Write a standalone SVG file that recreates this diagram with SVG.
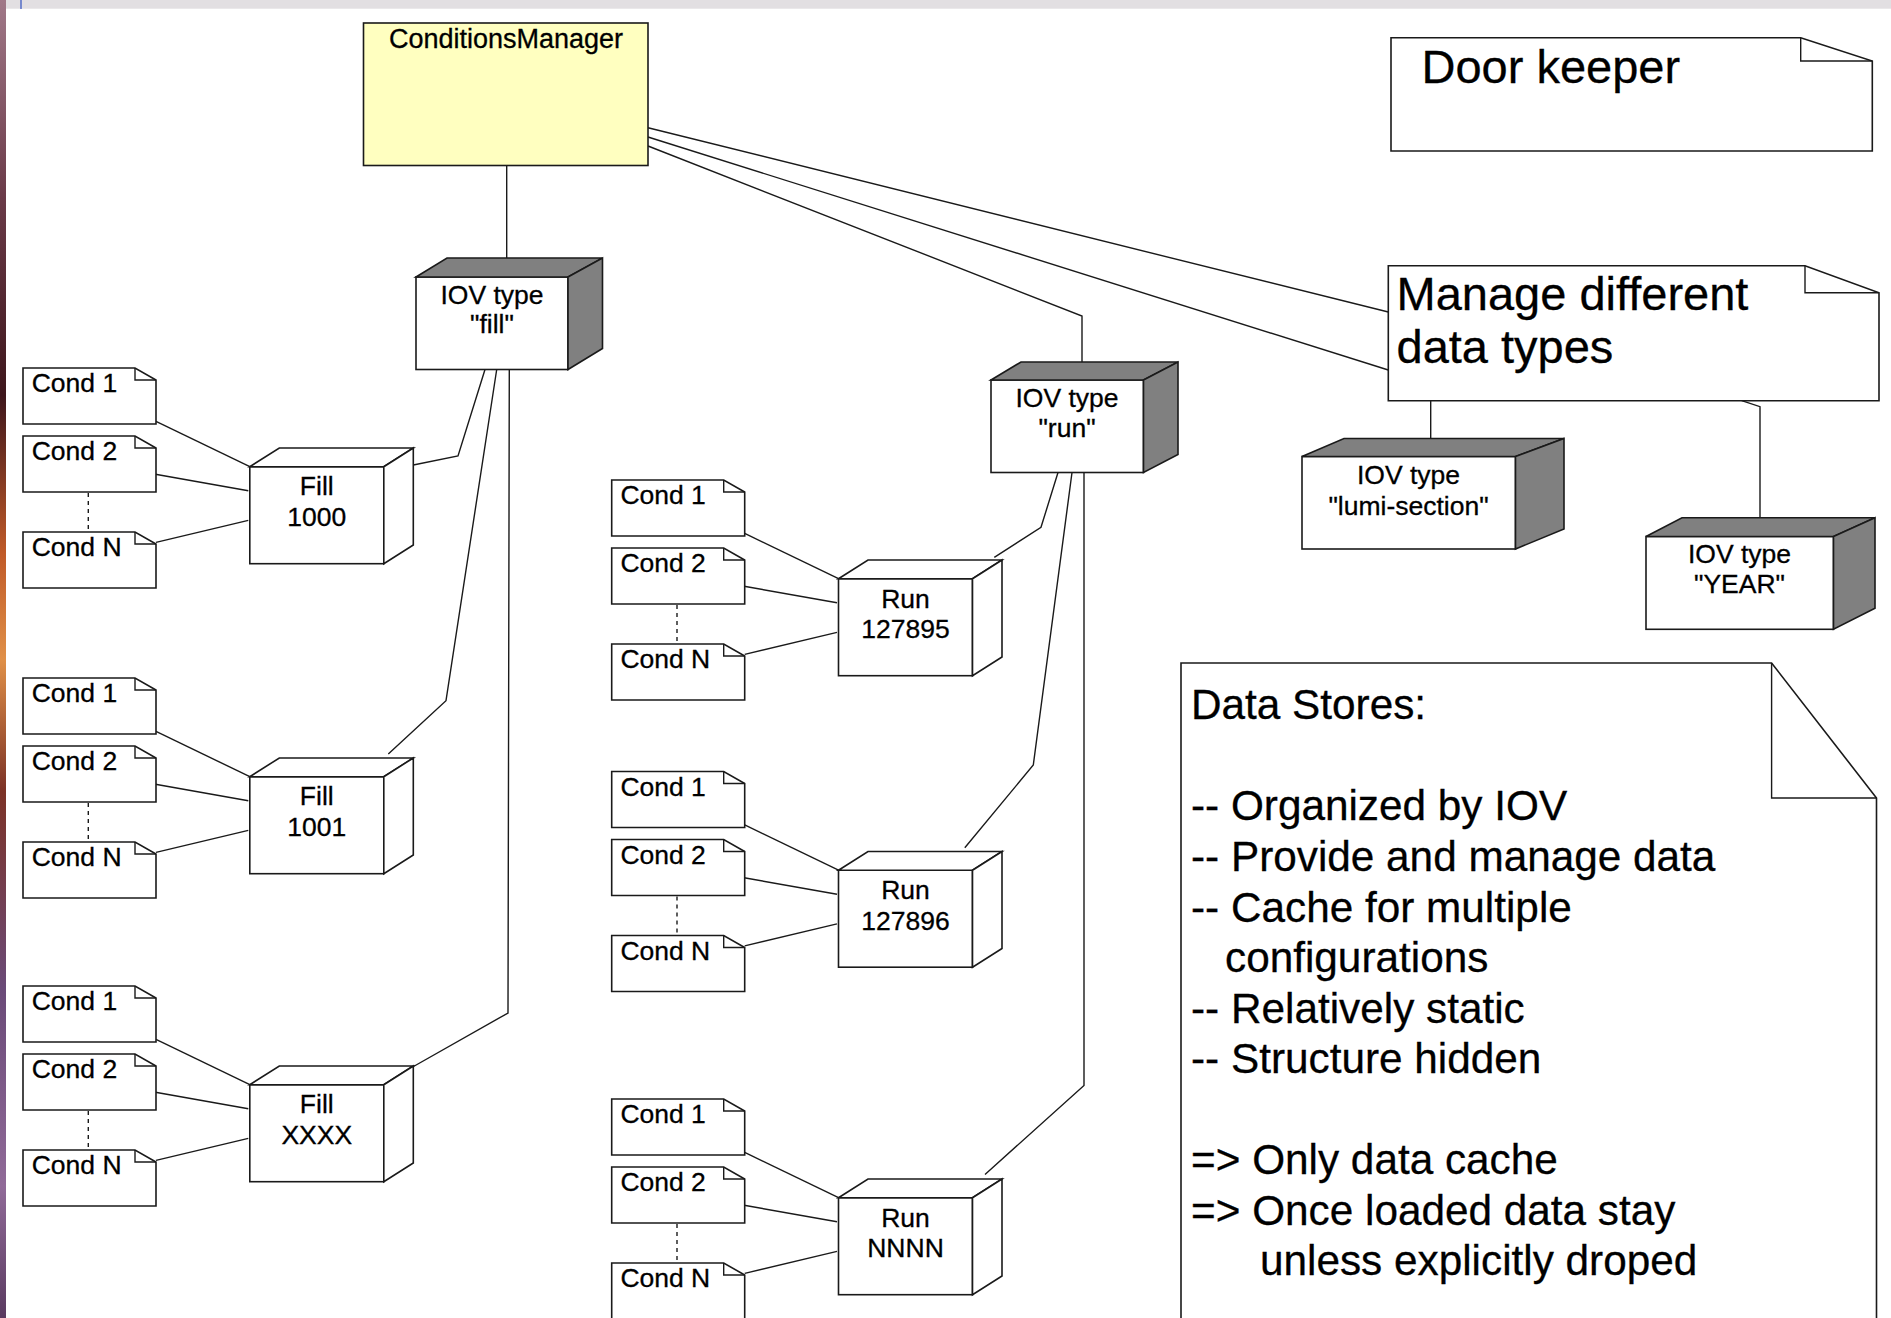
<svg xmlns="http://www.w3.org/2000/svg" xmlns:xlink="http://www.w3.org/1999/xlink" width="1891" height="1318" viewBox="0 0 1891 1318">
  <style>
    .ln { stroke:#1a1a1a; stroke-width:1.4; fill:none; }
    .dot { stroke:#1a1a1a; stroke-width:1.4; fill:none; stroke-dasharray:4 4; }
    .sh { stroke:#1a1a1a; stroke-width:1.6; stroke-linejoin:miter; }
    .white { fill:#ffffff; }
    .dark { fill:#808080; }
    text { font-family:"Liberation Sans", Arial, sans-serif; fill:#000; stroke:#000; stroke-width:0.3; }
    .s { font-size:26.5px; }
    .c { text-anchor:middle; }
    .big { font-size:47px; }
    .mid { font-size:42.3px; }
  </style>
  <defs>
    <linearGradient id="edge" x1="0" y1="0" x2="0" y2="1">
      <stop offset="0" stop-color="#a07888"/>
      <stop offset="0.15" stop-color="#6a3a48"/>
      <stop offset="0.3" stop-color="#3e161c"/>
      <stop offset="0.42" stop-color="#c05a28"/>
      <stop offset="0.5" stop-color="#e09048"/>
      <stop offset="0.6" stop-color="#7c3226"/>
      <stop offset="0.75" stop-color="#6a4a78"/>
      <stop offset="0.9" stop-color="#906a98"/>
      <stop offset="1" stop-color="#5a3a60"/>
    </linearGradient>
    <!-- small note with folded corner -->
    <g id="note">
      <path class="sh white" d="M0,0H112L133,12V56H0Z"/>
      <path class="ln" d="M112,0V12H133"/>
    </g>
    <!-- white 3D node used for Fill / Run entries -->
    <g id="cube">
      <rect class="sh white" x="0" y="0" width="134" height="97"/>
      <polygon class="sh white" points="0,0 29.5,-18.7 163.5,-18.7 134,0"/>
      <polygon class="sh white" points="134,0 163.5,-18.7 163.5,78.3 134,97"/>
    </g>
  </defs>

  <!-- page background -->
  <rect x="0" y="0" width="1891" height="1318" fill="#ffffff"/>
  <rect x="0" y="0" width="1891" height="8.7" fill="#e2dfe2"/>
  <rect x="0" y="0" width="6" height="1318" fill="url(#edge)"/>
  <line x1="21" y1="0" x2="21" y2="9" stroke="#3050c0" stroke-width="1.2"/>

  <!-- connectors -->
  <g id="connectors">
    <line class="ln" x1="506.7" y1="165.5" x2="506.7" y2="258"/>
    <line class="ln" x1="648" y1="127.7" x2="1388.3" y2="312"/>
    <line class="ln" x1="648" y1="137" x2="1388.3" y2="370"/>
    <polyline class="ln" points="648,146 1082,316 1082,362"/>
    <line class="ln" x1="1430.7" y1="400.7" x2="1430.7" y2="438.5"/>
    <polyline class="ln" points="1741.7,400.7 1760,406.7 1760,517.7"/>

    <!-- IOV fill to fills -->
    <polyline class="ln" points="413.3,465 458,456 485,369.5"/>
    <polyline class="ln" points="496.7,369.5 446,700.7 388.3,754"/>
    <polyline class="ln" points="509.3,369.5 508,1013 413.5,1066.5"/>

    <!-- IOV run to runs -->
    <polyline class="ln" points="1058,472.5 1041,527.3 994.3,557.3"/>
    <polyline class="ln" points="1072,472.5 1033.3,765 964.8,847.8"/>
    <polyline class="ln" points="1084,472.5 1084,1085.4 985,1174.5"/>

    <!-- conditions to Fill 1000 -->
    <line class="ln" x1="156" y1="421.4" x2="249.3" y2="466.4"/>
    <line class="ln" x1="154" y1="474" x2="248.3" y2="490.7"/>
    <line class="ln" x1="156" y1="542.4" x2="248.3" y2="520.4"/>
    <line class="dot" x1="88.3" y1="493" x2="88.3" y2="529"/>
    <!-- conditions to Fill 1001 -->
    <line class="ln" x1="156" y1="731.4" x2="249.3" y2="776.4"/>
    <line class="ln" x1="154" y1="784" x2="248.3" y2="800.7"/>
    <line class="ln" x1="156" y1="852.4" x2="248.3" y2="830.4"/>
    <line class="dot" x1="88.3" y1="803" x2="88.3" y2="839"/>
    <!-- conditions to Fill XXXX -->
    <line class="ln" x1="156" y1="1039.4" x2="249.3" y2="1084.4"/>
    <line class="ln" x1="154" y1="1092" x2="248.3" y2="1108.7"/>
    <line class="ln" x1="156" y1="1160.4" x2="248.3" y2="1138.4"/>
    <line class="dot" x1="88.3" y1="1111" x2="88.3" y2="1147"/>
    <!-- conditions to Run 127895 -->
    <line class="ln" x1="744.7" y1="533.4" x2="838" y2="578.4"/>
    <line class="ln" x1="742.7" y1="586" x2="837" y2="602.7"/>
    <line class="ln" x1="744.7" y1="654.4" x2="837" y2="632.4"/>
    <line class="dot" x1="677" y1="605" x2="677" y2="641"/>
    <!-- conditions to Run 127896 -->
    <line class="ln" x1="744.7" y1="824.9" x2="838" y2="869.9"/>
    <line class="ln" x1="742.7" y1="877.5" x2="837" y2="894.2"/>
    <line class="ln" x1="744.7" y1="945.9" x2="837" y2="923.9"/>
    <line class="dot" x1="677" y1="896.5" x2="677" y2="932.5"/>
    <!-- conditions to Run NNNN -->
    <line class="ln" x1="744.7" y1="1152.4" x2="838" y2="1197.4"/>
    <line class="ln" x1="742.7" y1="1205" x2="837" y2="1221.7"/>
    <line class="ln" x1="744.7" y1="1273.4" x2="837" y2="1251.4"/>
    <line class="dot" x1="677" y1="1224" x2="677" y2="1260"/>
  </g>

  <!-- manager -->
  <g id="conditions-manager">
    <rect class="sh" x="363.5" y="23" width="284.5" height="142.5" fill="#ffffc0"/>
    <text class="c" x="506" y="47.5" font-size="27">ConditionsManager</text>
  </g>

  <!-- IOV type nodes -->
  <g id="iov-fill">
    <rect class="sh white" x="416" y="277" width="152" height="92.5"/>
    <polygon class="sh dark" points="416,277 447,258 602.5,258 568,277"/>
    <polygon class="sh dark" points="568,277 602.5,258 602.5,348.5 568,369.5"/>
    <text class="s c" x="492" y="304">IOV type</text>
    <text class="s c" x="492" y="333">"fill"</text>
  </g>
  <g id="iov-run">
    <rect class="sh white" x="991" y="380" width="152.5" height="92.5"/>
    <polygon class="sh dark" points="991,380 1021,362 1178,362 1143.5,380"/>
    <polygon class="sh dark" points="1143.5,380 1178,362 1178,454.5 1143.5,472.5"/>
    <text class="s c" x="1067" y="407">IOV type</text>
    <text class="s c" x="1067" y="437">"run"</text>
  </g>
  <g id="iov-lumi">
    <rect class="sh white" x="1302" y="456.5" width="213.5" height="92.5"/>
    <polygon class="sh dark" points="1302,456.5 1344,438.5 1564,438.5 1515.5,456.5"/>
    <polygon class="sh dark" points="1515.5,456.5 1564,438.5 1564,529 1515.5,549"/>
    <text class="s c" x="1408.5" y="483.5">IOV type</text>
    <text class="s c" x="1408.5" y="514.5">"lumi-section"</text>
  </g>
  <g id="iov-year">
    <rect class="sh white" x="1646" y="536.5" width="187.5" height="92.8"/>
    <polygon class="sh dark" points="1646,536.5 1682,517.7 1875,517.7 1833.5,536.5"/>
    <polygon class="sh dark" points="1833.5,536.5 1875,517.7 1875,608.3 1833.5,629.3"/>
    <text class="s c" x="1739.5" y="563.3">IOV type</text>
    <text class="s c" x="1739.5" y="593.3">"YEAR"</text>
  </g>

  <!-- fill entries -->
  <g id="fill-1000">
    <use href="#cube" x="249.8" y="466.7"/>
    <text class="s c" x="316.8" y="495.2">Fill</text>
    <text class="s c" x="316.8" y="525.7">1000</text>
  </g>
  <g id="fill-1001">
    <use href="#cube" x="249.8" y="776.7"/>
    <text class="s c" x="316.8" y="805.2">Fill</text>
    <text class="s c" x="316.8" y="835.7">1001</text>
  </g>
  <g id="fill-xxxx">
    <use href="#cube" x="249.8" y="1084.7"/>
    <text class="s c" x="316.8" y="1113.2">Fill</text>
    <text class="s c" x="316.8" y="1143.7">XXXX</text>
  </g>

  <!-- run entries -->
  <g id="run-127895">
    <use href="#cube" x="838.5" y="578.7"/>
    <text class="s c" x="905.5" y="607.7">Run</text>
    <text class="s c" x="905.5" y="638">127895</text>
  </g>
  <g id="run-127896">
    <use href="#cube" x="838.5" y="870.2"/>
    <text class="s c" x="905.5" y="899.2">Run</text>
    <text class="s c" x="905.5" y="929.5">127896</text>
  </g>
  <g id="run-nnnn">
    <use href="#cube" x="838.5" y="1197.7"/>
    <text class="s c" x="905.5" y="1226.7">Run</text>
    <text class="s c" x="905.5" y="1257">NNNN</text>
  </g>

  <!-- condition notes, fill column -->
  <g id="f1-cond1"><use href="#note" x="23" y="368"/><text class="s" x="31.7" y="392">Cond 1</text></g>
  <g id="f1-cond2"><use href="#note" x="23" y="436"/><text class="s" x="31.7" y="460">Cond 2</text></g>
  <g id="f1-condn"><use href="#note" x="23" y="532"/><text class="s" x="31.7" y="556">Cond N</text></g>
  <g id="f2-cond1"><use href="#note" x="23" y="678"/><text class="s" x="31.7" y="702">Cond 1</text></g>
  <g id="f2-cond2"><use href="#note" x="23" y="746"/><text class="s" x="31.7" y="770">Cond 2</text></g>
  <g id="f2-condn"><use href="#note" x="23" y="842"/><text class="s" x="31.7" y="866">Cond N</text></g>
  <g id="f3-cond1"><use href="#note" x="23" y="986"/><text class="s" x="31.7" y="1010">Cond 1</text></g>
  <g id="f3-cond2"><use href="#note" x="23" y="1054"/><text class="s" x="31.7" y="1078">Cond 2</text></g>
  <g id="f3-condn"><use href="#note" x="23" y="1150"/><text class="s" x="31.7" y="1174">Cond N</text></g>

  <!-- condition notes, run column -->
  <g id="r1-cond1"><use href="#note" x="611.7" y="480"/><text class="s" x="620.4" y="504">Cond 1</text></g>
  <g id="r1-cond2"><use href="#note" x="611.7" y="548"/><text class="s" x="620.4" y="572">Cond 2</text></g>
  <g id="r1-condn"><use href="#note" x="611.7" y="644"/><text class="s" x="620.4" y="668">Cond N</text></g>
  <g id="r2-cond1"><use href="#note" x="611.7" y="771.5"/><text class="s" x="620.4" y="795.5">Cond 1</text></g>
  <g id="r2-cond2"><use href="#note" x="611.7" y="839.5"/><text class="s" x="620.4" y="863.5">Cond 2</text></g>
  <g id="r2-condn"><use href="#note" x="611.7" y="935.5"/><text class="s" x="620.4" y="959.5">Cond N</text></g>
  <g id="r3-cond1"><use href="#note" x="611.7" y="1099"/><text class="s" x="620.4" y="1123">Cond 1</text></g>
  <g id="r3-cond2"><use href="#note" x="611.7" y="1167"/><text class="s" x="620.4" y="1191">Cond 2</text></g>
  <g id="r3-condn"><use href="#note" x="611.7" y="1263"/><text class="s" x="620.4" y="1287">Cond N</text></g>

  <!-- comment notes -->
  <g id="note-door-keeper">
    <path class="sh white" d="M1391,37.7H1800.7L1872.3,61V151H1391Z"/>
    <path class="ln" d="M1800.7,37.7V61H1872.3"/>
    <text class="big" x="1421.5" y="83.3" font-size="47.5">Door keeper</text>
  </g>
  <g id="note-manage-types">
    <path class="sh white" d="M1388.3,265.7H1805L1879,292.7V400.7H1388.3Z"/>
    <path class="ln" d="M1805,265.7V292.7H1879"/>
    <text class="big" x="1396.5" y="310">Manage different</text>
    <text class="big" x="1396.5" y="362.7">data types</text>
  </g>
  <g id="note-data-stores">
    <path class="sh white" d="M1181,663H1771.6L1876.5,798V1322H1181Z"/>
    <path class="ln" d="M1771.6,663V798H1876.5"/>
    <text class="mid" x="1191" y="719">Data Stores:</text>
    <text class="mid" x="1191" y="820">-- Organized by IOV</text>
    <text class="mid" x="1191" y="871">-- Provide and manage data</text>
    <text class="mid" x="1191" y="921.5">-- Cache for multiple</text>
    <text class="mid" x="1225" y="972">configurations</text>
    <text class="mid" x="1191" y="1022.5">-- Relatively static</text>
    <text class="mid" x="1191" y="1073">-- Structure hidden</text>
    <text class="mid" x="1191" y="1174">=&gt; Only data cache</text>
    <text class="mid" x="1191" y="1224.5">=&gt; Once loaded data stay</text>
    <text class="mid" x="1260" y="1275">unless explicitly droped</text>
  </g>
</svg>
